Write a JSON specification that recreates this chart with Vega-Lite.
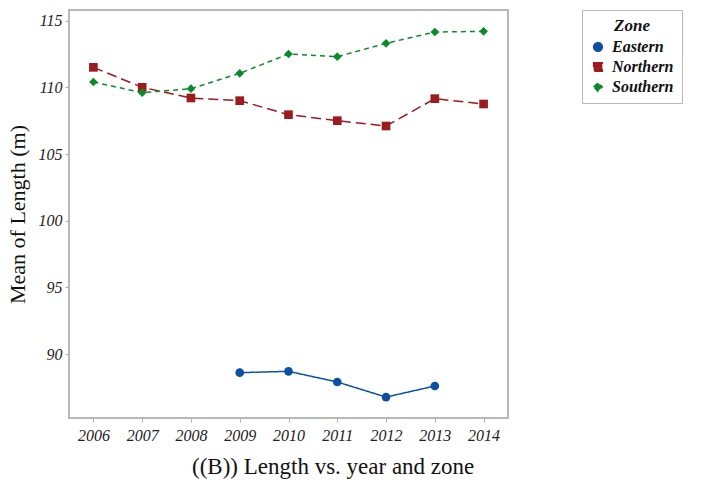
{
  "$schema": "https://vega.github.io/schema/vega-lite/v6.json",
  "width": 439,
  "height": 408,
  "autosize": "none",
  "padding": {"left": 69, "top": 10, "right": 199, "bottom": 67},
  "background": "white",
  "config": {
    "view": {"stroke": "#b8b8b8", "strokeWidth": 2},
    "font": "Liberation Serif"
  },
  "title": {
    "text": "((B)) Length vs. year and zone",
    "orient": "bottom",
    "anchor": "start",
    "dx": 186,
    "offset": 13,
    "font": "Liberation Serif",
    "fontSize": 23,
    "fontWeight": "normal",
    "color": "#111111"
  },
  "data": {
    "values": [
      {"Year": "2009", "Zone": "Eastern", "Length": 88.6},
      {"Year": "2010", "Zone": "Eastern", "Length": 88.7},
      {"Year": "2011", "Zone": "Eastern", "Length": 87.9},
      {"Year": "2012", "Zone": "Eastern", "Length": 86.77},
      {"Year": "2013", "Zone": "Eastern", "Length": 87.6},
      {"Year": "2006", "Zone": "Northern", "Length": 111.5},
      {"Year": "2007", "Zone": "Northern", "Length": 110.0},
      {"Year": "2008", "Zone": "Northern", "Length": 109.2},
      {"Year": "2009", "Zone": "Northern", "Length": 109.0},
      {"Year": "2010", "Zone": "Northern", "Length": 107.95},
      {"Year": "2011", "Zone": "Northern", "Length": 107.5},
      {"Year": "2012", "Zone": "Northern", "Length": 107.1},
      {"Year": "2013", "Zone": "Northern", "Length": 109.15},
      {"Year": "2014", "Zone": "Northern", "Length": 108.75},
      {"Year": "2006", "Zone": "Southern", "Length": 110.4},
      {"Year": "2007", "Zone": "Southern", "Length": 109.6},
      {"Year": "2008", "Zone": "Southern", "Length": 109.9},
      {"Year": "2009", "Zone": "Southern", "Length": 111.05},
      {"Year": "2010", "Zone": "Southern", "Length": 112.5},
      {"Year": "2011", "Zone": "Southern", "Length": 112.3},
      {"Year": "2012", "Zone": "Southern", "Length": 113.3},
      {"Year": "2013", "Zone": "Southern", "Length": 114.15},
      {"Year": "2014", "Zone": "Southern", "Length": 114.2}
    ]
  },
  "encoding": {
    "x": {
      "field": "Year",
      "type": "ordinal",
      "scale": {"type": "point", "padding": 0.5},
      "axis": {
        "title": null,
        "labelAngle": 0,
        "labelFont": "Liberation Serif",
        "labelFontStyle": "italic",
        "labelFontSize": 16,
        "labelColor": "#222222",
        "labelPadding": 5,
        "tickSize": 4,
        "tickColor": "#b0b0b0",
        "domain": false
      }
    },
    "y": {
      "field": "Length",
      "type": "quantitative",
      "scale": {"domain": [85.2, 115.8], "nice": false, "zero": false},
      "axis": {
        "title": "Mean of Length (m)",
        "titleFont": "Liberation Serif",
        "titleFontSize": 22,
        "titleFontWeight": "normal",
        "titleColor": "#111111",
        "titlePadding": 9,
        "values": [90, 95, 100, 105, 110, 115],
        "grid": false,
        "labelFont": "Liberation Serif",
        "labelFontStyle": "italic",
        "labelFontSize": 16,
        "labelColor": "#222222",
        "labelPadding": 3,
        "tickSize": 4,
        "tickColor": "#b0b0b0",
        "domain": false
      }
    },
    "color": {
      "field": "Zone",
      "type": "nominal",
      "scale": {"domain": ["Eastern", "Northern", "Southern"], "range": ["#0d4fa3", "#9b1b1e", "#0b8a2c"]},
      "legend": {
        "title": "Zone",
        "orient": "none",
        "legendX": 513,
        "legendY": 0,
        "titleFont": "Liberation Serif",
        "titleFontStyle": "italic",
        "titleFontWeight": "bold",
        "titleFontSize": 17,
        "titleColor": "#111111",
        "titleAnchor": "middle",
        "titlePadding": 4,
        "labelFont": "Liberation Serif",
        "labelFontStyle": "italic",
        "labelFontWeight": "bold",
        "labelFontSize": 16,
        "labelColor": "#111111",
        "labelOffset": 6,
        "strokeColor": "#b8b8b8",
        "fillColor": "white",
        "padding": 8,
        "rowPadding": 4,
        "symbolSize": 90,
        "symbolStrokeWidth": 1.5
      }
    }
  },
  "layer": [
    {
      "mark": {"type": "line", "strokeWidth": 1.5},
      "encoding": {
        "strokeDash": {
          "field": "Zone",
          "type": "nominal",
          "scale": {"domain": ["Eastern", "Northern", "Southern"], "range": [[1, 0], [10, 5], [5, 4]]},
          "legend": null
        }
      }
    },
    {
      "mark": {"type": "point", "filled": true, "opacity": 1},
      "encoding": {
        "shape": {
          "field": "Zone",
          "type": "nominal",
          "scale": {"domain": ["Eastern", "Northern", "Southern"], "range": ["circle", "square", "diamond"]},
          "legend": null
        },
        "size": {
          "field": "Zone",
          "type": "nominal",
          "scale": {"domain": ["Eastern", "Northern", "Southern"], "range": [75, 75, 120]},
          "legend": null
        }
      }
    }
  ]
}
